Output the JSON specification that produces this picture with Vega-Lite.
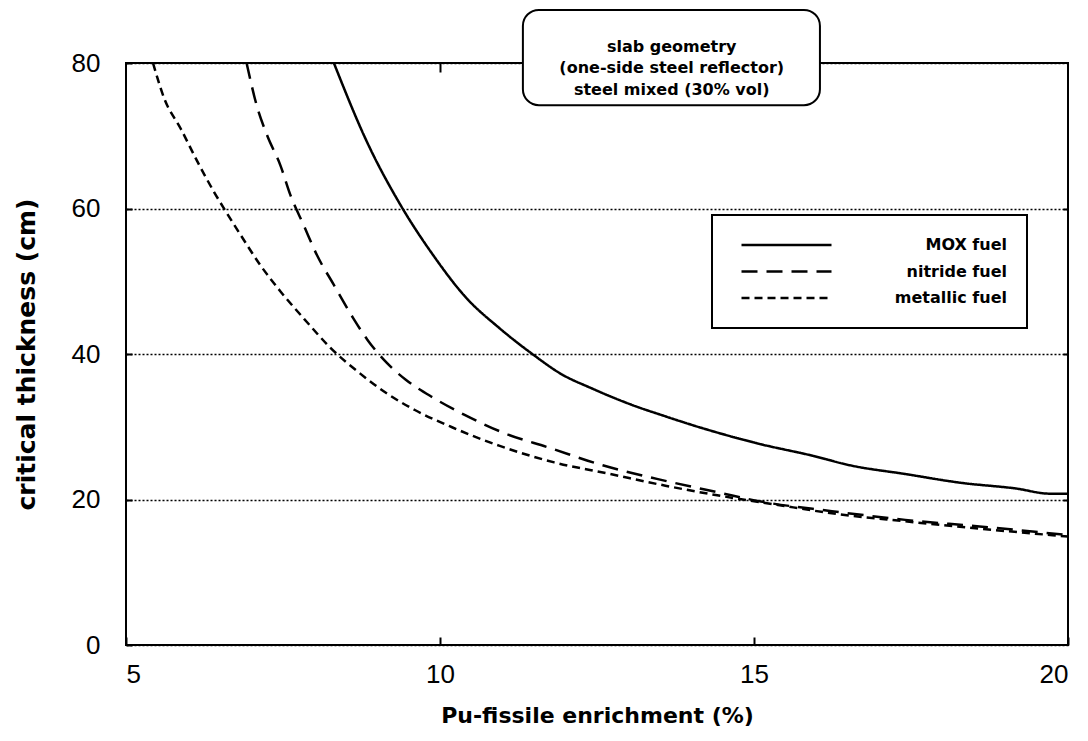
{
  "$schema": "https://vega.github.io/schema/vega-lite/v6.json",
  "width": 942,
  "height": 582,
  "autosize": {"type": "none"},
  "padding": {"left": 126, "top": 63, "right": 20, "bottom": 96},
  "background": "white",
  "config": {
    "font": "Liberation Sans",
    "view": {"stroke": "black", "strokeWidth": 2},
    "axis": {"domain": false, "labelColor": "black", "titleColor": "black", "tickColor": "black", "tickWidth": 2},
    "legend": {"strokeColor": "black", "strokeWidth": 2, "fillColor": "white"}
  },
  "resolve": {"axis": {"x": "independent", "y": "independent"}},
  "layer": [
    {
      "data": {
        "values": [
          {"fuel": "MOX fuel", "e": 8.31, "t": 80},
          {"fuel": "MOX fuel", "e": 8.84, "t": 69.1},
          {"fuel": "MOX fuel", "e": 9.37, "t": 60.5},
          {"fuel": "MOX fuel", "e": 9.89, "t": 53.6},
          {"fuel": "MOX fuel", "e": 10.42, "t": 47.7},
          {"fuel": "MOX fuel", "e": 10.94, "t": 43.6},
          {"fuel": "MOX fuel", "e": 11.47, "t": 40.0},
          {"fuel": "MOX fuel", "e": 11.94, "t": 37.2},
          {"fuel": "MOX fuel", "e": 12.41, "t": 35.3},
          {"fuel": "MOX fuel", "e": 13.12, "t": 32.8},
          {"fuel": "MOX fuel", "e": 13.53, "t": 31.6},
          {"fuel": "MOX fuel", "e": 14.18, "t": 29.8},
          {"fuel": "MOX fuel", "e": 15.06, "t": 27.7},
          {"fuel": "MOX fuel", "e": 15.94, "t": 26.0},
          {"fuel": "MOX fuel", "e": 16.53, "t": 24.7},
          {"fuel": "MOX fuel", "e": 17.41, "t": 23.5},
          {"fuel": "MOX fuel", "e": 18.29, "t": 22.3},
          {"fuel": "MOX fuel", "e": 19.18, "t": 21.5},
          {"fuel": "MOX fuel", "e": 19.71, "t": 20.8},
          {"fuel": "MOX fuel", "e": 20.0, "t": 20.8},
          {"fuel": "nitride fuel", "e": 6.92, "t": 80},
          {"fuel": "nitride fuel", "e": 7.09, "t": 73.9},
          {"fuel": "nitride fuel", "e": 7.25, "t": 70.0},
          {"fuel": "nitride fuel", "e": 7.46, "t": 65.9},
          {"fuel": "nitride fuel", "e": 7.62, "t": 61.8},
          {"fuel": "nitride fuel", "e": 7.83, "t": 57.7},
          {"fuel": "nitride fuel", "e": 8.04, "t": 53.6},
          {"fuel": "nitride fuel", "e": 8.31, "t": 49.5},
          {"fuel": "nitride fuel", "e": 8.62, "t": 44.9},
          {"fuel": "nitride fuel", "e": 8.84, "t": 42.0},
          {"fuel": "nitride fuel", "e": 9.15, "t": 38.8},
          {"fuel": "nitride fuel", "e": 9.45, "t": 36.5},
          {"fuel": "nitride fuel", "e": 9.89, "t": 34.0},
          {"fuel": "nitride fuel", "e": 10.4, "t": 31.6},
          {"fuel": "nitride fuel", "e": 11.06, "t": 29.0},
          {"fuel": "nitride fuel", "e": 11.71, "t": 27.2},
          {"fuel": "nitride fuel", "e": 12.59, "t": 24.7},
          {"fuel": "nitride fuel", "e": 13.47, "t": 22.8},
          {"fuel": "nitride fuel", "e": 14.47, "t": 20.9},
          {"fuel": "nitride fuel", "e": 15.06, "t": 19.8},
          {"fuel": "nitride fuel", "e": 16.24, "t": 18.4},
          {"fuel": "nitride fuel", "e": 17.41, "t": 17.2},
          {"fuel": "nitride fuel", "e": 18.59, "t": 16.3},
          {"fuel": "nitride fuel", "e": 20.0, "t": 15.1},
          {"fuel": "metallic fuel", "e": 5.43, "t": 80},
          {"fuel": "metallic fuel", "e": 5.61, "t": 75.1},
          {"fuel": "metallic fuel", "e": 5.87, "t": 71.0},
          {"fuel": "metallic fuel", "e": 6.14, "t": 66.4},
          {"fuel": "metallic fuel", "e": 6.40, "t": 62.3},
          {"fuel": "metallic fuel", "e": 6.56, "t": 60.0},
          {"fuel": "metallic fuel", "e": 6.83, "t": 56.3},
          {"fuel": "metallic fuel", "e": 7.14, "t": 52.2},
          {"fuel": "metallic fuel", "e": 7.46, "t": 48.6},
          {"fuel": "metallic fuel", "e": 7.88, "t": 44.4},
          {"fuel": "metallic fuel", "e": 8.25, "t": 40.9},
          {"fuel": "metallic fuel", "e": 8.73, "t": 37.3},
          {"fuel": "metallic fuel", "e": 9.15, "t": 34.6},
          {"fuel": "metallic fuel", "e": 9.6, "t": 32.3},
          {"fuel": "metallic fuel", "e": 10.2, "t": 29.9},
          {"fuel": "metallic fuel", "e": 10.94, "t": 27.4},
          {"fuel": "metallic fuel", "e": 11.82, "t": 25.1},
          {"fuel": "metallic fuel", "e": 12.71, "t": 23.5},
          {"fuel": "metallic fuel", "e": 13.59, "t": 21.9},
          {"fuel": "metallic fuel", "e": 14.47, "t": 20.5},
          {"fuel": "metallic fuel", "e": 15.35, "t": 19.3},
          {"fuel": "metallic fuel", "e": 16.24, "t": 18.1},
          {"fuel": "metallic fuel", "e": 17.41, "t": 17.0},
          {"fuel": "metallic fuel", "e": 18.59, "t": 16.0},
          {"fuel": "metallic fuel", "e": 20.0, "t": 14.9}
        ]
      },
      "mark": {"type": "line", "color": "black", "strokeWidth": 2.5, "interpolate": "monotone"},
      "encoding": {
        "x": {
          "field": "e", "type": "quantitative",
          "scale": {"domain": [5, 20], "nice": false, "zero": false},
          "axis": {
            "orient": "bottom", "values": [5, 10, 15, 20], "grid": false,
            "tickSize": -8, "labelPadding": 24, "labelFontSize": 26, "labelFont": "Liberation Sans",
            "title": "Pu-fissile enrichment (%)", "titleFont": "DejaVu Sans", "titleFontWeight": "bold",
            "titleFontSize": 22, "titlePadding": 18
          }
        },
        "y": {
          "field": "t", "type": "quantitative",
          "scale": {"domain": [0, 80], "nice": false, "zero": false},
          "axis": {
            "orient": "left", "values": [0, 20, 40, 60, 80],
            "grid": true, "gridColor": "black", "gridDash": [2, 2], "gridWidth": 1.5, "gridOpacity": 1,
            "tickSize": -6, "labelPadding": 32, "labelFontSize": 26, "labelFont": "Liberation Sans",
            "title": "critical thickness (cm)", "titleFont": "DejaVu Sans", "titleFontWeight": "bold",
            "titleFontSize": 25, "titlePadding": 32
          }
        },
        "strokeDash": {
          "field": "fuel", "type": "nominal",
          "scale": {"domain": ["MOX fuel", "nitride fuel", "metallic fuel"], "range": [[1, 0], [16, 9], [8, 5]]},
          "legend": {
            "title": null, "orient": "none", "legendX": 586, "legendY": 152, "direction": "vertical",
            "symbolType": "stroke", "symbolSize": 8100, "symbolStrokeWidth": 2.5, "symbolStrokeColor": "black",
            "symbolOffset": 8,
            "labelFont": "DejaVu Sans", "labelFontWeight": "bold", "labelFontSize": 16, "labelColor": "black",
            "labelAlign": "right", "labelOffset": 174, "labelLimit": 400,
            "clipHeight": 20, "rowPadding": 6.5, "padding": 20
          }
        }
      }
    },
    {
      "data": {"values": [{}]},
      "mark": {"type": "rect", "fill": "white", "stroke": "black", "strokeWidth": 2, "cornerRadius": 16},
      "encoding": {
        "x": {
          "datum": 11.32, "type": "quantitative",
          "scale": {"domain": [5, 20], "nice": false, "zero": false},
          "axis": {"orient": "top", "values": [10, 15], "labels": false, "grid": false, "tickSize": -9, "title": null}
        },
        "x2": {"datum": 16.05},
        "y": {
          "datum": 87.3, "type": "quantitative",
          "scale": {"domain": [0, 80], "nice": false, "zero": false},
          "axis": {"orient": "right", "values": [20, 40, 60], "labels": false, "grid": false, "tickSize": -5, "title": null}
        },
        "y2": {"datum": 74.2}
      }
    },
    {
      "data": {"values": [{}]},
      "mark": {"type": "text", "font": "DejaVu Sans", "fontWeight": "bold", "fontSize": 16, "lineHeight": 21.5, "align": "center", "baseline": "middle", "color": "black"},
      "encoding": {
        "x": {"datum": 13.69, "type": "quantitative", "scale": {"domain": [5, 20], "nice": false, "zero": false}, "axis": null},
        "y": {"datum": 82.2, "type": "quantitative", "scale": {"domain": [0, 80], "nice": false, "zero": false}, "axis": null},
        "text": {"value": ["slab geometry", "(one-side steel reflector)", "steel mixed (30% vol)"]}
      }
    }
  ]
}
